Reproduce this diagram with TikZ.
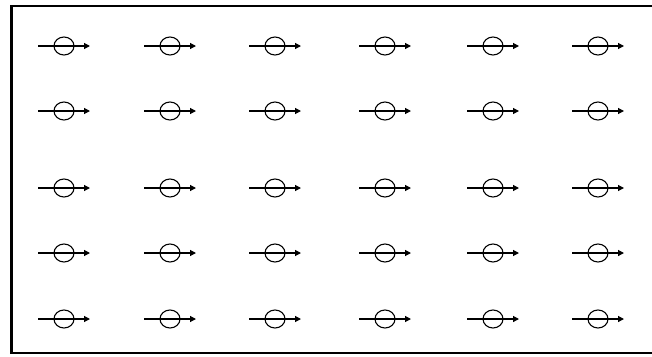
\documentclass[tikz,border=0pt]{standalone}
\usetikzlibrary{shapes.geometric,arrows.meta}
\begin{document}
\begin{tikzpicture}[x=1pt,y=1pt,
  ring/.style={draw,ellipse,line width=1.1pt,inner sep=0pt,minimum width=20pt,minimum height=18pt},
  flow/.style={line width=1.2pt,-{Triangle[length=6pt,width=6pt]}},
  frame/.style={line width=2.6pt}]
\useasboundingbox (0,0) rectangle (652,-356);
\draw[frame] (662,-6) -- (11.5,-6) -- (11.5,-353) -- (662,-353);
\foreach \c/\x in {1/64,2/170,3/275,4/385,5/493,6/598}{
  \foreach \r/\y in {1/-46,2/-111,3/-188,4/-253,5/-319}{
    \coordinate (s\r\c) at (\x-26,\y);
    \coordinate (e\r\c) at (\x+26,\y);
    \node[ring] (o\r\c) at (\x,\y) {};
    \draw[flow] (s\r\c) -- (e\r\c);
  }
}
\end{tikzpicture}
\end{document}
